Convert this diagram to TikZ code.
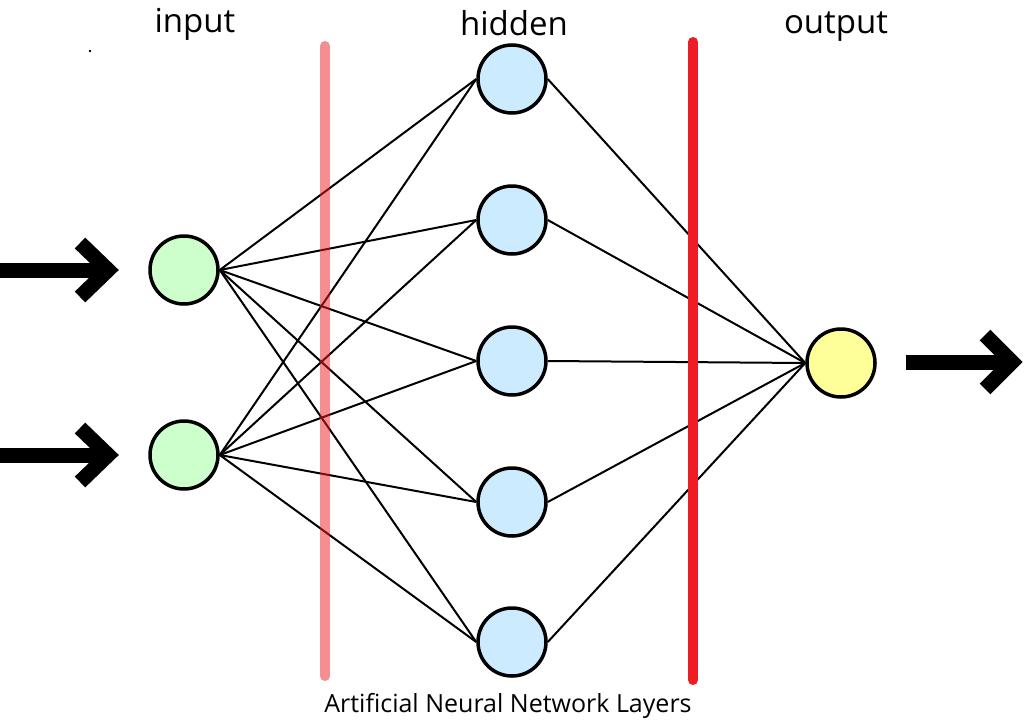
\documentclass[tikz,border=0pt]{standalone}
\usepackage{fontspec}
\setmainfont{Open Sans}
\usetikzlibrary{backgrounds}
\definecolor{ingreen}{HTML}{CCFFCC}
\definecolor{hidblue}{HTML}{CCEBFF}
\definecolor{outyellow}{HTML}{FFFF99}
\definecolor{layerred}{HTML}{EE1C24}
\tikzset{
  neuron/.style={circle, draw=black, line width=3.5pt, minimum size=68pt, inner sep=0pt},
  conn/.style={draw=black, line width=2pt},
  bigarrow/.style={draw=black, line width=15pt, line join=miter},
  layerline/.style={draw=layerred, line width=10pt, line cap=round},
  title/.style={anchor=base, font=\fontsize{33pt}{37pt}\selectfont, inner sep=0pt},
}
\begin{document}
\begin{tikzpicture}[x=1pt,y=-1pt]
\useasboundingbox (0,0) rectangle (1024,723);
% neurons
\node[neuron, fill=ingreen] (i1) at (184,270) {};
\node[neuron, fill=ingreen] (i2) at (184,455) {};
\node[neuron, fill=hidblue] (h1) at (512,79) {};
\node[neuron, fill=hidblue] (h2) at (512,220) {};
\node[neuron, fill=hidblue] (h3) at (512,361) {};
\node[neuron, fill=hidblue] (h4) at (512,502) {};
\node[neuron, fill=hidblue] (h5) at (512,642) {};
\node[neuron, fill=outyellow] (o) at (841,363) {};
% connectors
\begin{scope}[on background layer]
\foreach \i in {i1,i2}{
  \foreach \h in {h1,h2,h3,h4,h5}{
    \draw[conn] (\i.east) -- (\h.west);
  }
}
\foreach \h in {h1,h2,h3,h4,h5}{
  \draw[conn] (\h.east) -- (o.west);
}
\end{scope}
% layer separators
\coordinate (p1) at (325,46);
\coordinate (p2) at (325,676);
\coordinate (r1) at (693,42);
\coordinate (r2) at (693,680);
\draw[layerline, opacity=0.5] (p1) -- (p2);
\draw[layerline] (r1) -- (r2);
% arrows
\coordinate (a1s) at (0,270);
\coordinate (a1e) at (108,270);
\coordinate (a1t) at (80,243);
\coordinate (a1b) at (80,297);
\coordinate (a2s) at (0,455);
\coordinate (a2e) at (108,455);
\coordinate (a2t) at (80,428);
\coordinate (a2b) at (80,482);
\coordinate (a3s) at (906,362);
\coordinate (a3e) at (1012,362);
\coordinate (a3t) at (985,335);
\coordinate (a3b) at (985,389);
\draw[bigarrow] (a1s) -- (a1e);
\draw[bigarrow] (a1t) -- (a1e) -- (a1b);
\draw[bigarrow] (a2s) -- (a2e);
\draw[bigarrow] (a2t) -- (a2e) -- (a2b);
\draw[bigarrow] (a3s) -- (a3e);
\draw[bigarrow] (a3t) -- (a3e) -- (a3b);
% small dot
\fill[black] (90,51) circle (1.3pt);
% labels
\node[title] (tin) at (195,32) {input};
\node[title] (thid) at (514,35) {hidden};
\node[title] (tout) at (836,33) {output};
\node[anchor=base, inner sep=0pt, font=\fontsize{25pt}{29pt}\selectfont] (cap) at (508,712) {Artificial Neural Network Layers};
\end{tikzpicture}
\end{document}
